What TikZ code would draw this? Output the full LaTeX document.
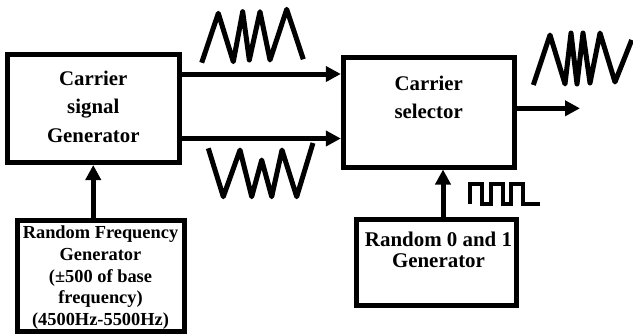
\documentclass[tikz,border=0pt]{standalone}
\usepackage{fontspec}
\setmainfont{Liberation Serif}
\usetikzlibrary{arrows.meta}

\begin{document}
\begin{tikzpicture}[x=1bp,y=-1bp,
  block/.style={draw, line width=5bp, inner sep=0pt},
  arrow/.style={line width=5bp, -{Triangle[length=15bp,width=15bp]}},
  wave/.style={line width=5bp, line join=round},
  square/.style={line width=4bp, line join=miter},
  bigtext/.style={font=\bfseries\fontsize{20.9}{28.4}\selectfont, align=center, inner sep=0pt, anchor=north},
  midtext/.style={font=\bfseries\fontsize{21}{20.8}\selectfont, align=center, inner sep=0pt, anchor=north},
  smalltext/.style={font=\bfseries\fontsize{18.45}{21.8}\selectfont, align=center, inner sep=0pt, anchor=north}
]
\useasboundingbox (0,0) rectangle (633,335);

% blocks
\node[block, minimum width=171.5bp, minimum height=108bp] (gen) at (93.25,108.5) {};
\node[block, minimum width=170.7bp, minimum height=110bp] (sel) at (428.7,112) {};
\node[block, minimum width=160bp, minimum height=86.5bp] (rnd) at (436,262.25) {};
\node[block, minimum width=166bp, minimum height=110.5bp] (freq) at (101,275.75) {};

% block texts
\node[bigtext] (gentxt) at (93.25,71) {Carrier\\signal\\Generator};
\node[bigtext] (seltxt) at (428.7,76) {Carrier\\selector};
\node[midtext] (rndtxt) at (438.5,231.7) {Random 0 and 1\\Generator};
\node[smalltext] (freqtxt) at (100.5,225.6) {Random Frequency\\Generator\\(±500 of base\\frequency)\\(4500Hz-5500Hz)};

% connectors
\draw[arrow] ([yshift=34.5bp]gen.east) -- ([yshift=34.5bp]gen.east -| sel.west);
\draw[arrow] ([yshift=-30bp]gen.east) -- ([yshift=-30bp]gen.east -| sel.west);
\draw[arrow] (gen.south |- freq.north) -- (gen.south);
\draw[arrow] ([xshift=7bp]rnd.north) -- ([xshift=7bp]rnd.north |- sel.south);
\coordinate (out) at (580,108.3);
\draw[arrow] (sel.east |- out) -- (out);

% carrier waveforms
\draw[wave] (201.7,62.7) -- (218.3,13.3) -- (233.3,61.7) -- (242.7,11.7) -- (249.3,60)
  -- (260,11.7) -- (270,60) -- (286.7,9.3) -- (303.3,59.3);
\draw[wave] (208.3,148.3) -- (223.3,196.7) -- (240,150) -- (251.7,196.7) -- (261.7,160)
  -- (271.7,196.7) -- (282,150) -- (296.7,196.7) -- (313,143);
% selected output waveform
\draw[wave] (533.3,85) -- (550,35) -- (565,84) -- (571,33) -- (577,84) -- (583,33)
  -- (590,83) -- (600,33) -- (615,82) -- (631.7,40);
% random bit stream
\draw[square] (470,204) -- (470,184) -- (482,184) -- (482,204) -- (491,204) -- (491,184)
  -- (503,184) -- (503,204) -- (511,204) -- (511,184) -- (523,184) -- (523,204) -- (540,204);
\end{tikzpicture}
\end{document}
